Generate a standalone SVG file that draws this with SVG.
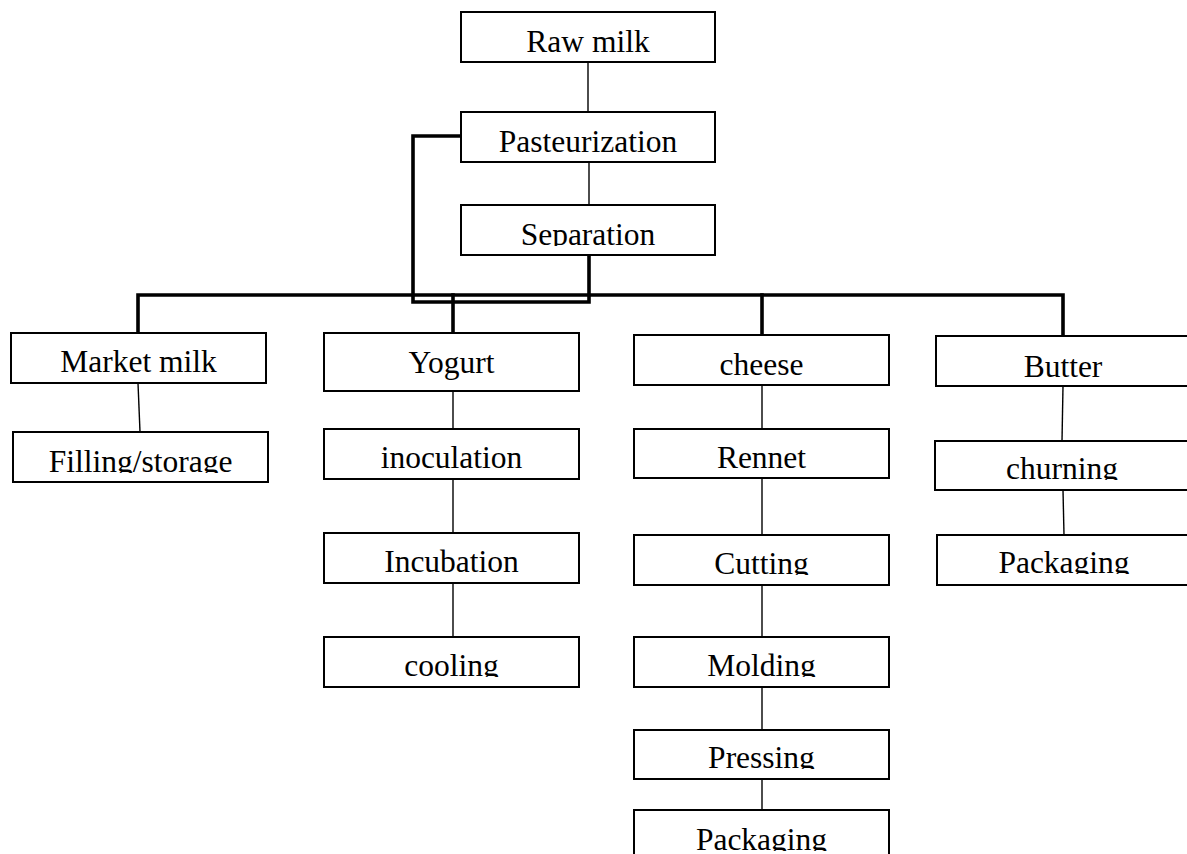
<svg xmlns="http://www.w3.org/2000/svg" width="1187" height="854" viewBox="0 0 1187 854">
<style>
.box{fill:#fff;stroke:#000;stroke-width:2}
.t{font-family:"Liberation Serif","Times New Roman",serif;font-size:31.5px;fill:#000;text-anchor:middle}
.thin{stroke:#000;stroke-width:1.4;fill:none}
.thick{stroke:#000;stroke-width:3.6;fill:none;stroke-linejoin:miter;stroke-linecap:square}
</style>
<defs>
<clipPath id="c1"><rect x="461" y="12" width="254" height="41"/></clipPath>
<clipPath id="c2"><rect x="461" y="112" width="254" height="41"/></clipPath>
<clipPath id="c3"><rect x="461" y="205" width="254" height="41"/></clipPath>
<clipPath id="c4"><rect x="11" y="333" width="255" height="40"/></clipPath>
<clipPath id="c5"><rect x="13" y="432" width="255" height="41"/></clipPath>
<clipPath id="c6"><rect x="324" y="333" width="255" height="50"/></clipPath>
<clipPath id="c7"><rect x="324" y="429" width="255" height="40"/></clipPath>
<clipPath id="c8"><rect x="324" y="533" width="255" height="40"/></clipPath>
<clipPath id="c9"><rect x="324" y="637" width="255" height="40"/></clipPath>
<clipPath id="c10"><rect x="634" y="335" width="255" height="41"/></clipPath>
<clipPath id="c11"><rect x="634" y="429" width="255" height="40"/></clipPath>
<clipPath id="c12"><rect x="634" y="535" width="255" height="40"/></clipPath>
<clipPath id="c13"><rect x="634" y="637" width="255" height="40"/></clipPath>
<clipPath id="c14"><rect x="634" y="730" width="255" height="39"/></clipPath>
<clipPath id="c15"><rect x="634" y="810" width="255" height="41"/></clipPath>
<clipPath id="c16"><rect x="936" y="336" width="254" height="42"/></clipPath>
<clipPath id="c17"><rect x="935" y="441" width="254" height="39"/></clipPath>
<clipPath id="c18"><rect x="937" y="535" width="254" height="39"/></clipPath>
</defs>
<g id="connectors">
<path class="thin" d="M588,62 V112"/>
<path class="thin" d="M589,162 V205"/>
<path class="thin" d="M138,383 L140,432"/>
<path class="thin" d="M453,391 V429"/>
<path class="thin" d="M453,479 V533"/>
<path class="thin" d="M453,583 V637"/>
<path class="thin" d="M762,385 V429"/>
<path class="thin" d="M762,478 V535"/>
<path class="thin" d="M762,585 V637"/>
<path class="thin" d="M762,687 V730"/>
<path class="thin" d="M762,779 V810"/>
<path class="thin" d="M1063,386 L1062,441"/>
<path class="thin" d="M1063,490 L1064,535"/>
<path class="thick" d="M138,333 V295 H1063 V336"/>
<path class="thick" d="M453,295 V333"/>
<path class="thick" d="M762,295 V335"/>
<path class="thick" d="M589,255 V302 H413 V136 H461"/>
</g>
<g id="n-rawmilk"><rect class="box" x="461" y="12" width="254" height="50"/><text class="t" x="588" y="52" clip-path="url(#c1)">Raw milk</text></g>
<g id="n-pasteurization"><rect class="box" x="461" y="112" width="254" height="50"/><text class="t" x="588" y="152" clip-path="url(#c2)">Pasteurization</text></g>
<g id="n-separation"><rect class="box" x="461" y="205" width="254" height="50"/><text class="t" x="588" y="245" clip-path="url(#c3)">Separation</text></g>
<g id="n-marketmilk"><rect class="box" x="11" y="333" width="255" height="50"/><text class="t" x="138.5" y="372" clip-path="url(#c4)">Market milk</text></g>
<g id="n-filling"><rect class="box" x="13" y="432" width="255" height="50"/><text class="t" x="140.5" y="472" clip-path="url(#c5)">Filling/storage</text></g>
<g id="n-yogurt"><rect class="box" x="324" y="333" width="255" height="58"/><text class="t" x="451.5" y="373" clip-path="url(#c6)">Yogurt</text></g>
<g id="n-inoculation"><rect class="box" x="324" y="429" width="255" height="50"/><text class="t" x="451.5" y="468" clip-path="url(#c7)">inoculation</text></g>
<g id="n-incubation"><rect class="box" x="324" y="533" width="255" height="50"/><text class="t" x="451.5" y="572" clip-path="url(#c8)">Incubation</text></g>
<g id="n-cooling"><rect class="box" x="324" y="637" width="255" height="50"/><text class="t" x="451.5" y="676" clip-path="url(#c9)">cooling</text></g>
<g id="n-cheese"><rect class="box" x="634" y="335" width="255" height="50"/><text class="t" x="761.5" y="375" clip-path="url(#c10)">cheese</text></g>
<g id="n-rennet"><rect class="box" x="634" y="429" width="255" height="49"/><text class="t" x="761.5" y="468" clip-path="url(#c11)">Rennet</text></g>
<g id="n-cutting"><rect class="box" x="634" y="535" width="255" height="50"/><text class="t" x="761.5" y="574" clip-path="url(#c12)">Cutting</text></g>
<g id="n-molding"><rect class="box" x="634" y="637" width="255" height="50"/><text class="t" x="761.5" y="676" clip-path="url(#c13)">Molding</text></g>
<g id="n-pressing"><rect class="box" x="634" y="730" width="255" height="49"/><text class="t" x="761.5" y="768" clip-path="url(#c14)">Pressing</text></g>
<g id="n-packaging-cheese"><rect class="box" x="634" y="810" width="255" height="60"/><text class="t" x="761.5" y="850" clip-path="url(#c15)">Packaging</text></g>
<g id="n-butter"><rect class="box" x="936" y="336" width="254" height="50"/><text class="t" x="1063" y="377" clip-path="url(#c16)">Butter</text></g>
<g id="n-churning"><rect class="box" x="935" y="441" width="254" height="49"/><text class="t" x="1062" y="479" clip-path="url(#c17)">churning</text></g>
<g id="n-packaging-butter"><rect class="box" x="937" y="535" width="254" height="50"/><text class="t" x="1064" y="573" clip-path="url(#c18)">Packaging</text></g>
</svg>
